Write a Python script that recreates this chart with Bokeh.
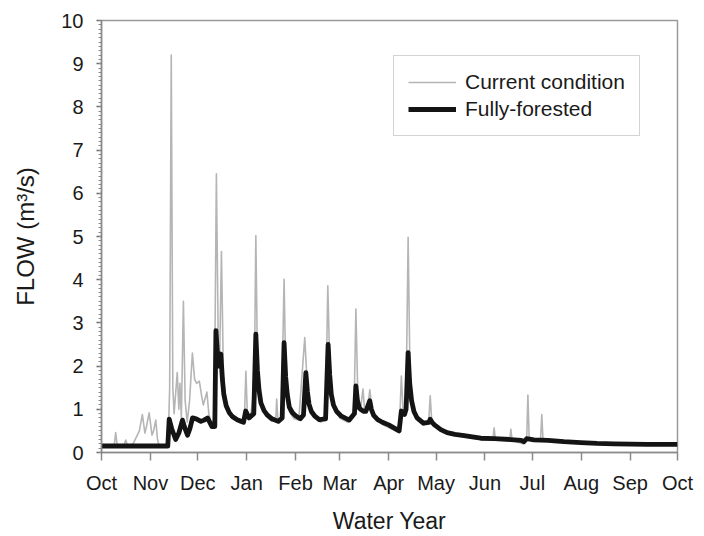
from bokeh.plotting import figure
from bokeh.models import FixedTicker, Legend, LegendItem, Range1d
from bokeh.embed import file_html
from bokeh.resources import INLINE

# ---- data ----
month_labels = ["Oct", "Nov", "Dec", "Jan", "Feb", "Mar", "Apr", "May", "Jun", "Jul", "Aug", "Sep", "Oct"]
month_start_day = [0, 31, 61, 92, 123, 151, 182, 212, 243, 273, 304, 335, 365]
y_ticks = [0, 1, 2, 3, 4, 5, 6, 7, 8, 9, 10]

current_day = [0, 8, 9, 10, 14, 15.4, 16.5, 20, 22, 24, 25.9, 27.5, 28.5, 30.2, 32, 33, 34.4, 35.5, 36.5,
               41.5, 42.5, 43.2, 44.2, 45.2, 46, 48, 49, 49.7, 50.6, 51.9, 53, 54.3, 55.8, 57.6, 59, 60.3,
               62, 63.5, 64.5, 66.8, 68, 69.8, 71.5, 72.8, 74, 74.8, 76, 77.3, 79, 81, 84, 88, 90.5, 91.5,
               92.5, 94.5, 96.8, 97.8, 99, 101, 104, 108, 110.5, 111, 111.8, 114, 115.7, 117, 119, 122, 125,
               128.8, 130.5, 132, 135, 139, 142, 143.4, 145, 147, 151, 156, 160, 161.2, 162.5, 164, 165.7,
               166.8, 168.5, 170, 171.5, 174, 178, 182, 187.5, 189, 190, 191.2, 193, 194.3, 195.5, 197, 200,
               204, 207.3, 208.3, 209.3, 211, 219, 230, 240, 248, 248.8, 249.6, 258.7, 259.4, 260.2, 267.6,
               269.5, 270.2, 271, 274, 278.2, 279, 279.8, 283, 293, 304, 325, 346, 365]
current_flow = [0.15, 0.15, 0.46, 0.15, 0.15, 0.29, 0.15, 0.2, 0.35, 0.5, 0.88, 0.45, 0.6, 0.92, 0.4, 0.5, 0.75, 0.3, 0.15,
                0.15, 0.6, 1.5, 9.2, 1.5, 0.9, 1.85, 1.0, 1.6, 0.8, 3.5, 1.2, 0.7, 1.2, 2.3, 1.7, 1.6,
                1.65, 1.3, 1.1, 1.4, 0.9, 0.65, 0.8, 6.45, 2.5, 2.0, 4.65, 1.7, 1.2, 0.95, 0.78, 0.68, 0.75, 1.88,
                0.8, 0.85, 1.5, 5.02, 1.6, 1.1, 0.85, 0.72, 0.78, 1.24, 0.75, 0.8, 4.01, 1.3, 0.95, 0.78, 0.75,
                2.66, 1.5, 1.0, 0.8, 0.7, 0.8, 3.86, 1.5, 1.05, 0.8, 0.7, 0.9, 3.32, 1.2, 0.95, 1.47,
                0.95, 0.95, 1.45, 1.0, 0.8, 0.65, 0.58, 0.48, 0.8, 1.77, 0.9, 1.2, 4.98, 1.8, 1.1, 0.75,
                0.63, 0.7, 1.31, 0.7, 0.62, 0.43, 0.36, 0.3, 0.3, 0.57, 0.3, 0.29, 0.54, 0.28, 0.2,
                0.4, 1.33, 0.35, 0.27, 0.28, 0.88, 0.28, 0.26, 0.23, 0.21, 0.19, 0.18, 0.18]

forested_day = [0, 42, 42.9, 44.5, 47, 49, 51.3, 52.5, 54.5, 56, 57.7, 60, 63, 65, 67.2, 70, 71.8, 72.5, 74, 75.6,
                76.6, 77.5, 79, 81, 83, 86, 90, 91.4, 93.5, 96.5, 97.8, 98.8, 99.8, 101, 103, 105, 108, 112, 114.5,
                115.7, 116.7, 117.7, 119, 121, 123, 126, 128, 129.5, 130.5, 131.5, 133, 135, 138, 142, 143.6, 144.6,
                145.6, 147, 149, 152, 157, 160.3, 161.2, 162.2, 163.5, 166, 167.5, 170, 171, 172.5, 175, 178, 182,
                188.6, 190, 192, 193, 194.3, 195.3, 196.5, 198, 200, 204, 207.5, 208.3, 209.5, 211, 215, 219,
                224, 229.8, 235, 240.4, 248.8, 259.4, 266, 267.6, 269.5, 274, 283, 293, 303.7, 314, 324.8, 346, 365]
forested_flow = [0.15, 0.15, 0.77, 0.55, 0.3, 0.45, 0.75, 0.6, 0.4, 0.55, 0.8, 0.78, 0.72, 0.75, 0.8, 0.6, 0.6, 2.82, 2.0, 2.28,
                 1.7, 1.35, 1.08, 0.92, 0.83, 0.76, 0.7, 0.96, 0.8, 0.9, 2.74, 1.9, 1.45, 1.15, 0.97, 0.87, 0.78, 0.72, 0.8,
                 2.54, 1.75, 1.35, 1.05, 0.92, 0.85, 0.78, 0.87, 1.85, 1.4, 1.12, 0.95, 0.85, 0.76, 0.78, 2.5, 1.8,
                 1.35, 1.1, 0.95, 0.84, 0.75, 0.9, 1.54, 1.2, 1.02, 0.95, 0.95, 1.2, 1.0, 0.86, 0.76, 0.7, 0.64,
                 0.5, 0.96, 0.88, 1.0, 2.31, 1.6, 1.2, 0.95, 0.8, 0.68, 0.7, 0.77, 0.7, 0.64, 0.53, 0.46,
                 0.42, 0.39, 0.36, 0.33, 0.32, 0.3, 0.28, 0.25, 0.32, 0.29, 0.28, 0.25, 0.23, 0.21, 0.2, 0.19, 0.19]

FONT = "Liberation Sans"

p = figure(width=696, height=536, output_backend="svg", toolbar_location=None,
           x_range=Range1d(0, 365), y_range=Range1d(0, 10),
           min_border_left=101, min_border_right=19, min_border_top=20, min_border_bottom=84,
           background_fill_color="white", border_fill_color="white")

p.xgrid.visible = False
p.ygrid.visible = False
p.outline_line_color = "#9a9a9a"
p.outline_line_width = 1.5

r_cur = p.line(current_day, current_flow, line_color="#b5b5b5", line_width=1.6, line_join="round")
r_for = p.line(forested_day, forested_flow, line_color="#141414", line_width=4.8, line_join="round")

# x axis
xa = p.xaxis[0]
xa.ticker = FixedTicker(ticks=month_start_day, minor_ticks=[])
xa.major_label_overrides = {d: m for d, m in zip(month_start_day, month_labels)}
xa.axis_label = "Water Year"
xa.axis_line_color = "#8a8a8a"
xa.axis_line_width = 1.5
xa.major_tick_line_color = "#8a8a8a"
xa.major_tick_line_width = 1.5
xa.major_tick_out = 8
xa.major_tick_in = 0
xa.minor_tick_line_color = None
xa.major_label_standoff = 11
xa.major_label_text_font = FONT
xa.major_label_text_font_size = "20px"
xa.major_label_text_color = "#1a1a1a"
xa.axis_label_text_font = FONT
xa.axis_label_text_font_size = "23px"
xa.axis_label_text_font_style = "normal"
xa.axis_label_text_color = "#1a1a1a"
xa.axis_label_standoff = 11

# y axis
ya = p.yaxis[0]
ya.ticker = FixedTicker(ticks=y_ticks, minor_ticks=[i / 10 for i in range(101)])
ya.axis_label = "FLOW (m\u00b3/s)"
ya.axis_line_color = "#8a8a8a"
ya.axis_line_width = 1.5
ya.major_tick_line_color = "#6a6a6a"
ya.major_tick_line_width = 1.5
ya.major_tick_out = 5
ya.major_tick_in = 0
ya.minor_tick_line_color = "#8a8a8a"
ya.minor_tick_line_width = 1
ya.minor_tick_out = 3
ya.minor_tick_in = 0
ya.major_label_standoff = 13
ya.major_label_text_font = FONT
ya.major_label_text_font_size = "20px"
ya.major_label_text_color = "#1a1a1a"
ya.axis_label_text_font = FONT
ya.axis_label_text_font_size = "24px"
ya.axis_label_text_font_style = "normal"
ya.axis_label_text_color = "#1a1a1a"
ya.axis_label_standoff = 19

legend = Legend(items=[LegendItem(label="Current condition", renderers=[r_cur]),
                       LegendItem(label="Fully-forested", renderers=[r_for])],
                location=(292, 316))
legend.border_line_color = "#a8a8a8"
legend.border_line_width = 1.5
legend.background_fill_color = "white"
legend.background_fill_alpha = 1
legend.label_text_font = FONT
legend.label_text_font_size = "21px"
legend.label_text_color = "#1a1a1a"
legend.glyph_width = 48
legend.glyph_height = 20
legend.label_height = 20
legend.label_standoff = 9
legend.padding = 14
legend.spacing = 3
legend.margin = 0
p.add_layout(legend)

open("out.html", "w").write(file_html(p, INLINE))
